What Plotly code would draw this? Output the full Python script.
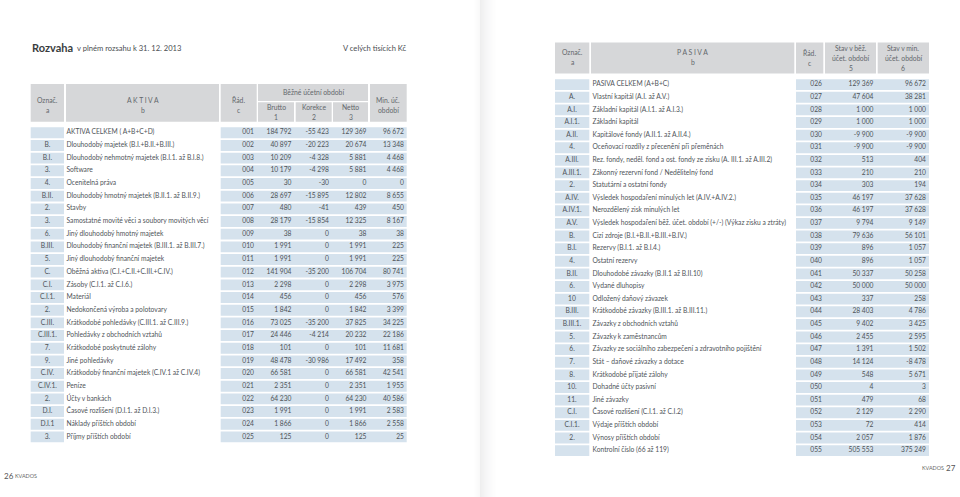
import plotly.graph_objects as go

W, H = 960, 497

# ---------------- data: AKTIVA ----------------
akt_oznac = ["", "B.", "B.I.", "3.", "4.", "B.II.", "2.", "3.", "6.", "B.III.", "5.", "C.", "C.I.",
             "C.I.1.", "2.", "C.III.", "C.III.1.", "7.", "9.", "C.IV.", "C.IV.1.", "2.", "D.I.", "D.I.1", "3."]
akt_text = ["AKTIVA CELKEM ( A+B+C+D)", "Dlouhodobý majetek (B.I.+B.II.+B.III.)",
            "Dlouhodobý nehmotný majetek (B.I.1. až B.I.8.)", "Software", "Ocenitelná práva",
            "Dlouhodobý hmotný majetek (B.II.1. až B.II.9.)", "Stavby",
            "Samostatné movité věci a soubory movitých věcí", "Jiný dlouhodobý hmotný majetek",
            "Dlouhodobý finanční majetek (B.III.1. až B.III.7.)", "Jiný dlouhodobý finanční majetek",
            "Oběžná aktiva (C.I.+C.II.+C.III.+C.IV.)", "Zásoby (C.I.1. až C.I.6.)", "Materiál",
            "Nedokončená výroba a polotovary", "Krátkodobé pohledávky (C.III.1. až C.III.9.)",
            "Pohledávky z obchodních vztahů", "Krátkodobé poskytnuté zálohy", "Jiné pohledávky",
            "Krátkodobý finanční majetek (C.IV.1 až C.IV.4)", "Peníze", "Účty v bankách",
            "Časové rozlišení (D.I.1. až D.I.3.)", "Náklady příštích období", "Příjmy příštích období"]
akt_rad = ["001", "002", "003", "004", "005", "006", "007", "008", "009", "010", "011", "012", "013",
           "014", "015", "016", "017", "018", "019", "020", "021", "022", "023", "024", "025"]
akt_brutto = [184792, 40897, 10209, 10179, 30, 28697, 480, 28179, 38, 1991, 1991, 141904, 2298,
              456, 1842, 73025, 24446, 101, 48478, 66581, 2351, 64230, 1991, 1866, 125]
akt_korekce = [-55423, -20223, -4328, -4298, -30, -15895, -41, -15854, 0, 0, 0, -35200, 0,
               0, 0, -35200, -4214, 0, -30986, 0, 0, 0, 0, 0, 0]
akt_netto = [129369, 20674, 5881, 5881, 0, 12802, 439, 12325, 38, 1991, 1991, 106704, 2298,
             456, 1842, 37825, 20232, 101, 17492, 66581, 2351, 64230, 1991, 1866, 125]
akt_min = [96672, 13348, 4468, 4468, 0, 8655, 450, 8167, 38, 225, 225, 80741, 3975,
           576, 3399, 34225, 22186, 11681, 358, 42541, 1955, 40586, 2583, 2558, 25]

# ---------------- data: PASIVA ----------------
pas_oznac = ["", "A.", "A.I.", "A.I.1.", "A.II.", "4.", "A.III.", "A.III.1.", "2.", "A.IV.", "A.IV.1.",
             "A.V.", "B.", "B.I.", "4.", "B.II.", "6.", "10", "B.III.", "B.III.1.", "5.", "6.", "7.",
             "8.", "10.", "11.", "C.I.", "C.I.1.", "2.", ""]
pas_text = ["PASIVA CELKEM (A+B+C)", "Vlastní kapitál (A.I. až A.V.)", "Základní kapitál (A.I.1. až A.I.3.)",
            "Základní kapitál", "Kapitálové fondy (A.II.1. až A.II.4.)",
            "Oceňovací rozdíly z přecenění při přeměnách",
            "Rez. fondy, neděl. fond a ost. fondy ze zisku (A. III.1. až A.III.2)",
            "Zákonný rezervní fond / Nedělitelný fond", "Statutární a ostatní fondy",
            "Výsledek hospodaření minulých let (A.IV.+A.IV.2.)", "Nerozdělený zisk minulých let",
            "Výsledek hospodaření běž. účet. období (+/-) (Výkaz zisku a ztráty)",
            "Cizí zdroje (B.I.+B.II.+B.III.+B.IV.)", "Rezervy (B.I.1. až B.I.4.)", "Ostatní rezervy",
            "Dlouhodobé závazky (B.II.1 až B.II.10)", "Vydané dluhopisy", "Odložený daňový závazek",
            "Krátkodobé závazky (B.III.1. až B.III.11.)", "Závazky z obchodních vztahů",
            "Závazky k zaměstnancům", "Závazky ze sociálního zabezpečení a zdravotního pojištění",
            "Stát – daňové závazky a dotace", "Krátkodobé přijaté zálohy", "Dohadné účty pasivní",
            "Jiné závazky", "Časové rozlišení (C.I.1. až C.I.2)", "Výdaje příštích období",
            "Výnosy příštích období", "Kontrolní číslo (66 až 119)"]
pas_rad = ["026", "027", "028", "029", "030", "031", "032", "033", "034", "035", "036", "037", "038",
           "039", "040", "041", "042", "043", "044", "045", "046", "047", "048", "049", "050", "051",
           "052", "053", "054", "055"]
pas_bez = [129369, 47604, 1000, 1000, -9900, -9900, 513, 210, 303, 46197, 46197, 9794, 79636,
           896, 896, 50337, 50000, 337, 28403, 9402, 2455, 1391, 14124, 548, 4, 479, 2129, 72, 2057, 505553]
pas_min = [96672, 38281, 1000, 1000, -9900, -9900, 404, 210, 194, 37628, 37628, 9149, 56101,
           1057, 1057, 50258, 50000, 258, 4786, 3425, 2595, 1502, -8478, 5671, 3, 68, 2290, 414, 1876, 375249]

# ---------------- style ----------------
FONT = "Lato"
BLUE = "#d5e2ed"
GRAY = "#d6d7d9"
TXT = "#4f5459"
HTXT = "#63676c"
FS = 6.7


def fmt(v):
    s = f"{abs(v):,}".replace(",", " ")
    return ("-" if v < 0 else "") + s


def py(p):
    return 1 - p / H


fig = go.Figure()

# ---- layout geometry (pixels) ----
L = dict(a=(30.7, 64), b=(66, 219), band=(220.7, 406.7), y0=132.8, pitch=12.67, n=len(akt_rad))
R = dict(a=(555, 589.3), b=(591, 794.3), band=(796, 929), y0=84.6, pitch=12.62, n=len(pas_rad))


def add_table(G, yname, oznac, texts, rad, value_cols, rad_x, val_xs, a_cx, b_x):
    n = len(rad)
    idx = list(range(n))
    for (x0, x1) in (G["a"], G["band"]):
        fig.add_trace(go.Bar(orientation="h", y=idx, x=[x1 - x0] * n, base=[x0] * n,
                             width=0.86, marker=dict(color=BLUE, line=dict(width=0)),
                             yaxis=yname, xaxis="x", hoverinfo="skip", showlegend=False))
    tf = dict(family=FONT, size=FS, color=TXT)
    fig.add_trace(go.Scatter(x=[a_cx] * n, y=idx, text=oznac, mode="text", textposition="middle center",
                             textfont=tf, yaxis=yname, xaxis="x", hoverinfo="skip", showlegend=False,
                             cliponaxis=False))
    fig.add_trace(go.Scatter(x=[b_x] * n, y=idx, text=texts, mode="text", textposition="middle right",
                             textfont=tf, yaxis=yname, xaxis="x", hoverinfo="skip", showlegend=False,
                             cliponaxis=False))
    fig.add_trace(go.Scatter(x=[rad_x] * n, y=idx, text=rad, mode="text", textposition="middle left",
                             textfont=tf, yaxis=yname, xaxis="x", hoverinfo="skip", showlegend=False,
                             cliponaxis=False))
    for vals, vx in zip(value_cols, val_xs):
        fig.add_trace(go.Scatter(x=[vx] * n, y=idx, text=[fmt(v) for v in vals], mode="text",
                                 textposition="middle left", textfont=tf, yaxis=yname, xaxis="x",
                                 hoverinfo="skip", showlegend=False, cliponaxis=False))


add_table(L, "y", akt_oznac, akt_text, akt_rad, [akt_brutto, akt_korekce, akt_netto, akt_min],
          254, [291.5, 329, 366.5, 404], 47.4, 66.5)
add_table(R, "y2", pas_oznac, pas_text, pas_rad, [pas_bez, pas_min],
          822, [873.5, 926], 572, 592.5)


def ydomain(G):
    top = G["y0"] - G["pitch"] / 2
    bot = G["y0"] + (G["n"] - 0.5) * G["pitch"]
    return [py(bot), py(top)]


# ---- header boxes ----
shapes = []
ann = []


def box(x0, x1, y0, y1):
    shapes.append(dict(type="rect", xref="x", yref="paper", x0=x0, x1=x1, y0=py(y1), y1=py(y0),
                       fillcolor=GRAY, line=dict(width=0), layer="below"))


def label(x, y, text, size=6.8, color=HTXT, anchor="center", bold=False, family=FONT):
    ann.append(dict(x=x, y=py(y), xref="x", yref="paper", text=f"<b>{text}</b>" if bold else text,
                    showarrow=False, xanchor=anchor, yanchor="middle",
                    font=dict(family=family, size=size, color=color)))


# left header
box(30.7, 64, 84, 121.7)
box(66, 219, 84, 121.7)
box(220.7, 256.7, 84, 121.7)
box(258, 368, 84, 101)
box(258, 294, 102.3, 121.7)
box(295.7, 331.7, 102.3, 121.7)
box(333, 368, 102.3, 121.7)
box(370, 406.7, 84, 121.7)
label(47.4, 99.5, "Označ.")
label(47.4, 109.5, "a")
label(142.5, 99.5, "A K T I V A")
label(142.5, 109.5, "b")
label(238.7, 99.5, "Řád.")
label(238.7, 109.5, "c")
label(313, 92.5, "Běžné účetní období")
label(276, 106.5, "Brutto")
label(276, 116.5, "1")
label(313.7, 106.5, "Korekce")
label(313.7, 116.5, "2")
label(350.5, 106.5, "Netto")
label(350.5, 116.5, "3")
label(388.3, 100, "Min. úč.")
label(388.3, 109.5, "období")

# right header
box(555, 589.3, 42.5, 73.5)
box(591, 794.3, 42.5, 73.5)
box(796, 823.3, 42.5, 73.5)
box(825, 876, 42.5, 73.5)
box(877.7, 929, 42.5, 73.5)
label(572, 52.5, "Označ.")
label(572, 62.5, "a")
label(692.5, 52.5, "P A S I V A")
label(692.5, 62.5, "b")
label(809.7, 53, "Řád.")
label(809.7, 63, "c")
label(850.5, 48, "Stav v běž.")
label(850.5, 58, "účet. období")
label(850.5, 68, "5")
label(903.3, 48, "Stav v min.")
label(903.3, 58, "účet. období")
label(903.3, 68, "6")

# titles
label(30, 47.5, "Rozvaha", size=11, color="#3a3d40", anchor="left", bold=True)
label(74.5, 48.3, "v plném rozsahu k 31. 12. 2013", size=7.6, color="#4a4d50", anchor="left")
label(409, 48.3, "V celých tisících Kč", size=7.6, color="#4a4d50", anchor="right")

# footers
label(1.5, 476, "26", size=8, color="#555", anchor="left")
label(12.5, 476.3, "KVADOS", size=5.4, color="#666", anchor="left")
label(957.5, 467.7, "27", size=8, color="#555", anchor="right")
label(946, 468, "KVADOS", size=5.4, color="#666", anchor="right")

# gutter shading on right page
for i in range(18):
    a = 0.16 * (1 - i / 18) ** 1.6
    shapes.append(dict(type="rect", xref="x", yref="paper", x0=480 + i, x1=481 + i, y0=0, y1=1,
                       fillcolor=f"rgba(150,150,155,{a:.3f})", line=dict(width=0), layer="below"))
for i in range(6):
    a = 0.06 * (1 - i / 6)
    shapes.append(dict(type="rect", xref="x", yref="paper", x0=479 - i, x1=480 - i, y0=0, y1=1,
                       fillcolor=f"rgba(150,150,155,{a:.3f})", line=dict(width=0), layer="below"))

fig.update_layout(
    width=W, height=H, margin=dict(l=0, r=0, t=0, b=0),
    paper_bgcolor="white", plot_bgcolor="rgba(0,0,0,0)",
    barmode="overlay", showlegend=False,
    xaxis=dict(range=[0, W], domain=[0, 1], visible=False, fixedrange=True),
    yaxis=dict(range=[L["n"] - 0.5, -0.5], domain=ydomain(L), visible=False, fixedrange=True),
    yaxis2=dict(range=[R["n"] - 0.5, -0.5], domain=ydomain(R), visible=False, fixedrange=True,
                anchor="x"),
    shapes=shapes, annotations=ann,
)

fig.write_html("out.html", config={"displayModeBar": False},
               post_script="document.body.style.margin='0';document.body.style.overflow='hidden';")
